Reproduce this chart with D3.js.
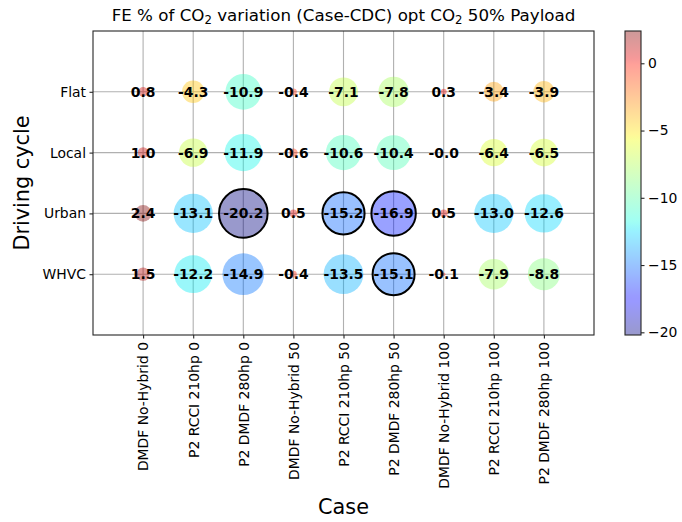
<!DOCTYPE html>
<html>
<head>
<meta charset="utf-8">
<script src="https://cdn.jsdelivr.net/npm/d3@7"></script>
<style>
  html, body { margin: 0; padding: 0; background: #fff; }
  svg { display: block; font-family: "DejaVu Sans", sans-serif; }
</style>
</head>
<body>
<svg id="chart" width="682" height="522"></svg>
<script>
// Cases on the x axis
const cases = [
  "DMDF No-Hybrid 0", "P2 RCCI 210hp 0", "P2 DMDF 280hp 0",
  "DMDF No-Hybrid 50", "P2 RCCI 210hp 50", "P2 DMDF 280hp 50",
  "DMDF No-Hybrid 100", "P2 RCCI 210hp 100", "P2 DMDF 280hp 100"
];
// Driving cycles on the y axis
const cycles = ["Flat", "Local", "Urban", "WHVC"];

// FE % of CO2 variation, one array per driving cycle, in case order
const flatValues  = [0.8, -4.3, -10.9, -0.4, -7.1, -7.8, 0.3, -3.4, -3.9];
const localValues = [1.0, -6.9, -11.9, -0.6, -10.6, -10.4, -0.02, -6.4, -6.5];
const urbanValues = [2.4, -13.1, -20.2, 0.5, -15.2, -16.9, 0.5, -13.0, -12.6];
const whvcValues  = [1.5, -12.2, -14.9, -0.4, -13.5, -15.1, -0.1, -7.9, -8.8];

// Colour bar ticks
const colorTicks = [0, -5, -10, -15, -20];

const seriesByCycle = [flatValues, localValues, urbanValues, whvcValues];
const cells = [];
cycles.forEach((cyc, ci) => {
  seriesByCycle[ci].forEach((v, k) => cells.push({ cycle: ci, caseIdx: k, value: v }));
});

// matplotlib "jet" colormap
function jet(t) {
  t = Math.max(0, Math.min(1, t));
  const seg = (pts) => {
    for (let i = 1; i < pts.length; i++) {
      if (t <= pts[i][0]) {
        const [x0, y0] = pts[i - 1], [x1, y1] = pts[i];
        return y0 + (y1 - y0) * (t - x0) / (x1 - x0);
      }
    }
    return pts[pts.length - 1][1];
  };
  const r = seg([[0, 0], [0.35, 0], [0.66, 1], [0.89, 1], [1, 0.5]]);
  const g = seg([[0, 0], [0.125, 0], [0.375, 1], [0.64, 1], [0.91, 0], [1, 0]]);
  const b = seg([[0, 0.5], [0.11, 1], [0.34, 1], [0.65, 0], [1, 0]]);
  return d3.rgb(r * 255, g * 255, b * 255).formatHex();
}

const allValues = cells.map(d => d.value);
const vmin = d3.min(allValues), vmax = d3.max(allValues);
const color = d3.scaleSequential(jet).domain([vmin, vmax]);
const ALPHA = 0.4;

const svg = d3.select("#chart");
const margin = { left: 93, top: 31, right: 594, bottom: 335 };

const x = d3.scaleLinear().domain([-1, cases.length]).range([margin.left, margin.right]);
const y = d3.scaleLinear().domain([-1, cycles.length]).range([margin.top, margin.bottom]);
const r = d3.scaleSqrt().domain([0, d3.max(allValues, v => Math.abs(v))]).range([0, 24.3]);

// Grid
const grid = svg.append("g");
grid.selectAll("line.gx").data(cases).join("line")
  .attr("x1", (d, i) => x(i)).attr("x2", (d, i) => x(i))
  .attr("y1", margin.top).attr("y2", margin.bottom)
  .attr("stroke", "#b0b0b0").attr("stroke-width", 1.1);
grid.selectAll("line.gy").data(cycles).join("line")
  .attr("y1", (d, i) => y(i)).attr("y2", (d, i) => y(i))
  .attr("x1", margin.left).attr("x2", margin.right)
  .attr("stroke", "#b0b0b0").attr("stroke-width", 1.1);

// Bubbles
svg.append("g").selectAll("circle").data(cells).join("circle")
  .attr("cx", d => x(d.caseIdx))
  .attr("cy", d => y(d.cycle))
  .attr("r", d => r(Math.abs(d.value)))
  .attr("fill", d => color(d.value))
  .attr("fill-opacity", ALPHA)
  .attr("stroke", d => d.value < -15 ? "#000" : "none")
  .attr("stroke-width", 2);

// Value labels
svg.append("g").selectAll("text").data(cells).join("text")
  .attr("x", d => x(d.caseIdx))
  .attr("y", d => y(d.cycle))
  .attr("text-anchor", "middle")
  .attr("dominant-baseline", "central")
  .attr("font-size", 13.9)
  .attr("font-weight", "bold")
  .attr("fill", "#000")
  .text(d => d.value.toFixed(1));

// Frame
svg.append("rect")
  .attr("x", margin.left).attr("y", margin.top)
  .attr("width", margin.right - margin.left).attr("height", margin.bottom - margin.top)
  .attr("fill", "none").attr("stroke", "#262626").attr("stroke-width", 1.1);

// X axis
const xAxis = d3.axisBottom(x).tickValues(d3.range(cases.length)).tickFormat(i => cases[i])
  .tickSize(3.5).tickPadding(3.5);
const gx = svg.append("g").attr("transform", `translate(0,${margin.bottom})`).call(xAxis);
gx.select(".domain").remove();
gx.selectAll(".tick line").attr("stroke", "#262626").attr("stroke-width", 1.1);
gx.selectAll(".tick text")
  .attr("font-size", 13.9).attr("font-family", "DejaVu Sans").attr("fill", "#000")
  .attr("transform", "rotate(-90)")
  .attr("x", -7).attr("y", 0).attr("dy", "0.35em")
  .attr("text-anchor", "end");

// Y axis
const yAxis = d3.axisLeft(y).tickValues(d3.range(cycles.length)).tickFormat(i => cycles[i])
  .tickSize(3.5).tickPadding(3.5);
const gy = svg.append("g").attr("transform", `translate(${margin.left},0)`).call(yAxis);
gy.select(".domain").remove();
gy.selectAll(".tick line").attr("stroke", "#262626").attr("stroke-width", 1.1);
gy.selectAll(".tick text").attr("font-size", 13.9).attr("font-family", "DejaVu Sans").attr("fill", "#000");

// Axis titles
svg.append("text")
  .attr("x", (margin.left + margin.right) / 2).attr("y", 514)
  .attr("text-anchor", "middle").attr("font-size", 20.8).attr("fill", "#000")
  .text("Case");
svg.append("text")
  .attr("transform", `translate(29,${(margin.top + margin.bottom) / 2}) rotate(-90)`)
  .attr("text-anchor", "middle").attr("font-size", 20.8).attr("fill", "#000")
  .text("Driving cycle");

// Title with CO2 subscripts
const title = svg.append("text")
  .attr("x", (margin.left + margin.right) / 2).attr("y", 21)
  .attr("text-anchor", "middle").attr("font-size", 16.7).attr("fill", "#000");
title.append("tspan").text("FE % of CO");
title.append("tspan").attr("font-size", 11.7).attr("dy", 3).text("2");
title.append("tspan").attr("dy", -3).text(" variation (Case-CDC) opt CO");
title.append("tspan").attr("font-size", 11.7).attr("dy", 3).text("2");
title.append("tspan").attr("dy", -3).text(" 50% Payload");

// Colour bar
const cb = { x: 625, w: 16 };
const cy = d3.scaleLinear().domain([vmin, vmax]).range([margin.bottom, margin.top]);
const defs = svg.append("defs");
const grad = defs.append("linearGradient").attr("id", "cbgrad")
  .attr("x1", 0).attr("y1", 1).attr("x2", 0).attr("y2", 0);
d3.range(0, 1.0001, 0.01).forEach(t => {
  grad.append("stop").attr("offset", t).attr("stop-color", jet(t));
});
svg.append("rect")
  .attr("x", cb.x).attr("y", margin.top)
  .attr("width", cb.w).attr("height", margin.bottom - margin.top)
  .attr("fill", "url(#cbgrad)").attr("fill-opacity", ALPHA);
svg.append("rect")
  .attr("x", cb.x).attr("y", margin.top)
  .attr("width", cb.w).attr("height", margin.bottom - margin.top)
  .attr("fill", "none").attr("stroke", "#262626").attr("stroke-width", 1.1);
const cAxis = d3.axisRight(cy).tickValues(colorTicks)
  .tickFormat(v => String(v).replace("-", "\u2212")).tickSize(3.5).tickPadding(3.5);
const gc = svg.append("g").attr("transform", `translate(${cb.x + cb.w},0)`).call(cAxis);
gc.select(".domain").remove();
gc.selectAll(".tick line").attr("stroke", "#262626").attr("stroke-width", 1.1);
gc.selectAll(".tick text").attr("font-size", 13.9).attr("font-family", "DejaVu Sans").attr("fill", "#000");
</script>
</body>
</html>
